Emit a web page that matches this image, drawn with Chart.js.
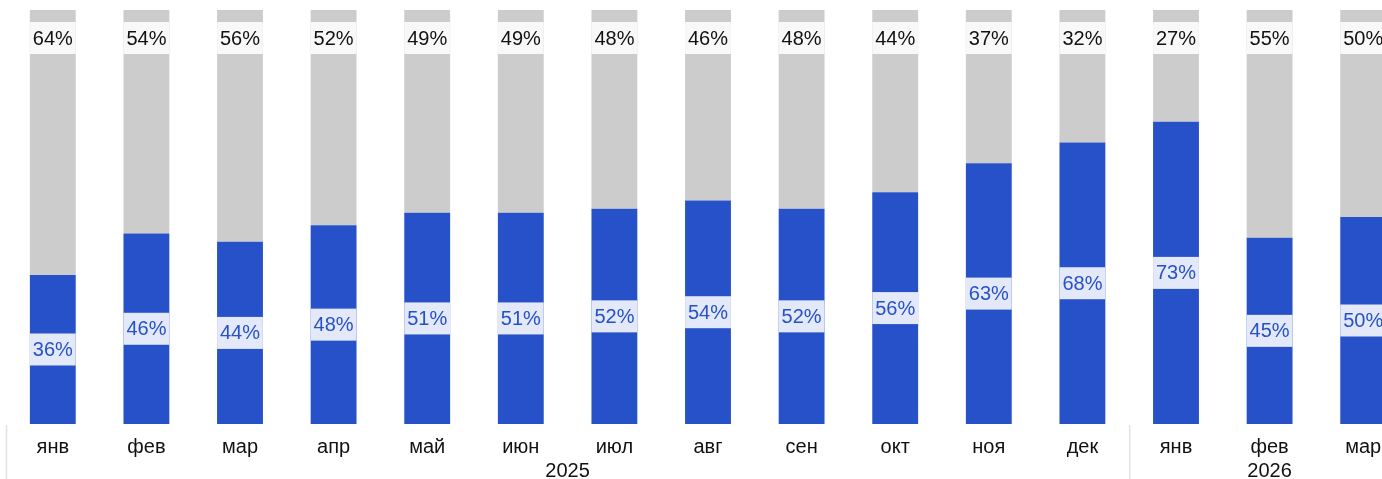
<!DOCTYPE html>
<html>
<head>
<meta charset="utf-8">
<script src="https://cdn.jsdelivr.net/npm/chart.js@4"></script>
<style>
  html, body { margin: 0; padding: 0; background: #fff; overflow: hidden; }
  canvas { display: block; }
</style>
</head>
<body>
<canvas id="chart" width="1412" height="479"></canvas>
<script>
const months = ['янв', 'фев', 'мар', 'апр', 'май', 'июн', 'июл', 'авг', 'сен', 'окт', 'ноя', 'дек', 'янв', 'фев', 'мар'];
const years = ['2025', '2026'];
const yearStarts = [0, 12];
const yearEnds = [11, 14];
const bluePct = [36, 46, 44, 48, 51, 51, 52, 54, 52, 56, 63, 68, 73, 45, 50];
const grayPct = [64, 54, 56, 52, 49, 49, 48, 46, 48, 44, 37, 32, 27, 55, 50];

const BLUE = '#2651c9';
const GRAY = '#cccccc';
const FONT = '"Liberation Sans", Arial, sans-serif';

// labels on the bars + year row under the months
const labelPlugin = {
    id: 'labels',
    afterDatasetsDraw(chart) {
        const ctx = chart.ctx;
        ctx.save();
        ctx.font = '20px ' + FONT;
        ctx.textAlign = 'center';
        ctx.textBaseline = 'middle';
        chart.data.datasets.forEach((ds, i) => {
            const meta = chart.getDatasetMeta(i);
            meta.data.forEach((bar, j) => {
                const p = bar.getProps(['x', 'y', 'base', 'width'], true);
                const cy = i === 0 ? (p.y + p.base) / 2 : p.y + 28;
                ctx.fillStyle = i === 0 ? '#e3e9f8' : '#f8f8f8';
                ctx.fillRect(p.x - p.width / 2, cy - 16, p.width, 32);
                ctx.fillStyle = i === 0 ? BLUE : '#111';
                ctx.fillText(ds.data[j] + '%', p.x, cy + 1);
            });
        });
        ctx.restore();
    },
    afterDraw(chart) {
        const ctx = chart.ctx;
        const xs = chart.scales.x;
        const bottom = chart.chartArea.bottom;
        ctx.save();
        ctx.font = '20px ' + FONT;
        ctx.textAlign = 'center';
        ctx.textBaseline = 'middle';
        years.forEach((yr, k) => {
            const left = xs.getPixelForValue(yearStarts[k] - 0.5);
            const right = xs.getPixelForValue(yearEnds[k] + 0.5);
            ctx.strokeStyle = '#e2e2e2';
            ctx.lineWidth = 1.5;
            ctx.beginPath();
            ctx.moveTo(left + 0.5, bottom + 1);
            ctx.lineTo(left + 0.5, chart.height);
            ctx.stroke();
            ctx.fillStyle = '#111';
            ctx.fillText(yr, (left + right) / 2, 471);
        });
        ctx.restore();
    }
};

new Chart(document.getElementById('chart'), {
    type: 'bar',
    data: {
        labels: months,
        datasets: [
            { label: 'blue', data: bluePct, backgroundColor: BLUE, categoryPercentage: 1, barPercentage: 0.49 },
            { label: 'gray', data: grayPct, backgroundColor: GRAY, categoryPercentage: 1, barPercentage: 0.49 }
        ]
    },
    options: {
        responsive: false,
        animation: false,
        layout: { padding: { left: 6, right: 2, top: 10, bottom: 17 } },
        scales: {
            x: {
                stacked: true,
                grid: { display: false },
                border: { display: false },
                ticks: { color: '#111', font: { family: FONT, size: 20 }, padding: 3, maxRotation: 0, autoSkip: false }
            },
            y: { stacked: true, min: 0, max: 100, display: false }
        },
        plugins: {
            legend: { display: false },
            tooltip: { enabled: false }
        }
    },
    plugins: [labelPlugin]
});
</script>
</body>
</html>
